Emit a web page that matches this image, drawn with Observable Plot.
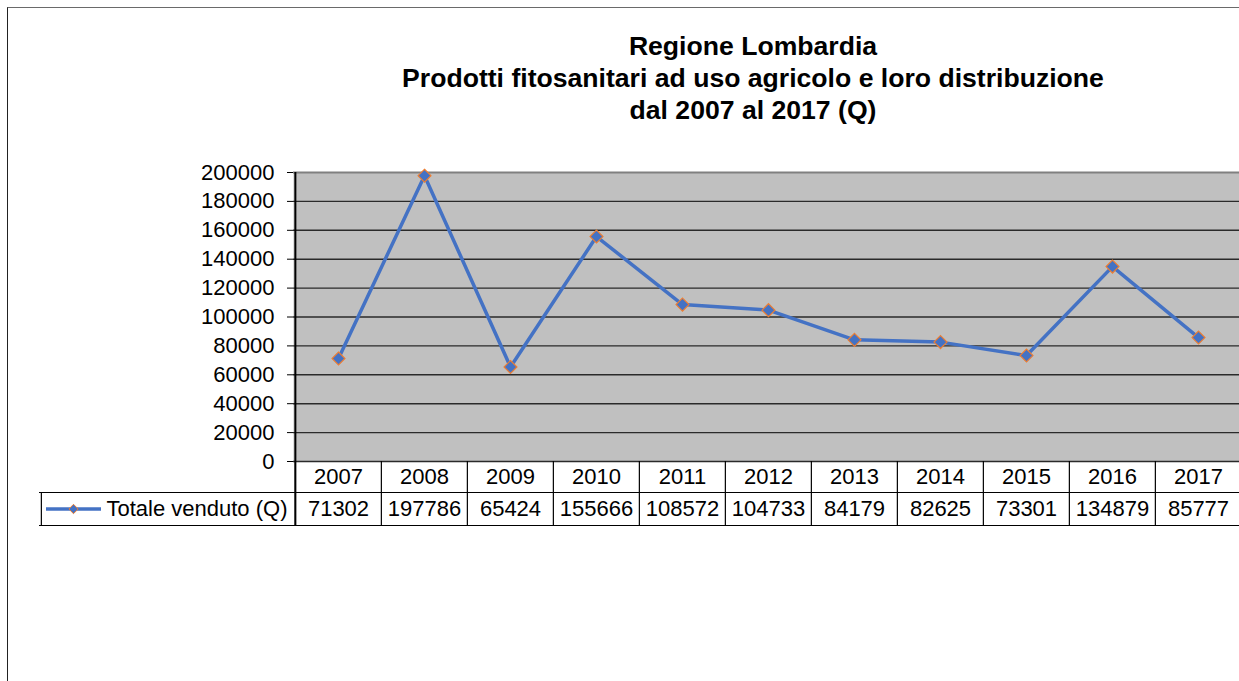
<!DOCTYPE html>
<html><head><meta charset="utf-8">
<script src="https://cdn.jsdelivr.net/npm/d3@7"></script>
<script src="https://cdn.jsdelivr.net/npm/@observablehq/plot@0.6"></script>
<style>
html,body{margin:0;padding:0;background:#fff;overflow:hidden;width:1239px;height:681px;}
#frame{position:absolute;left:7px;top:7px;width:1400px;height:800px;border-left:1px solid #222;border-top:1px solid #6a6a6a;}
#title{position:absolute;left:353px;top:30px;width:800px;text-align:center;font-family:"Liberation Sans",Arial,sans-serif;font-weight:bold;font-size:26.6px;line-height:32px;color:#000;}
#chart{position:absolute;left:0;top:0;width:1245px;}
#chart svg{max-width:none !important;}
</style></head><body>
<div id="frame"></div>
<div id="title"></div>
<div id="chart"></div>
<script>
const titleLines = ["Regione Lombardia", "Prodotti fitosanitari ad uso agricolo e loro distribuzione", "dal 2007 al 2017 (Q)"];
const years = [2007, 2008, 2009, 2010, 2011, 2012, 2013, 2014, 2015, 2016, 2017];
const totals = [71302, 197786, 65424, 155666, 108572, 104733, 84179, 82625, 73301, 134879, 85777];
const yTicks = [0, 20000, 40000, 60000, 80000, 100000, 120000, 140000, 160000, 180000, 200000];
const seriesName = "Totale venduto (Q)";

document.getElementById("title").innerHTML = titleLines.join("<br>");

const W = 1244, H = 681, ML = 293, MR = 2, MT = 172, MB = 220;
const step = (W - ML - MR) / years.length;
const frameH = H - MT - MB;
const row1 = 31, row2 = 33;
const legendLeft = 39;
const data = years.map((y, i) => ({year: y, value: totals[i]}));
const font = '"Liberation Sans", Arial, sans-serif';
const blue = "#4472C4", orange = "#ED7D31";

const chart = Plot.plot({
  width: W, height: H,
  marginLeft: ML, marginRight: MR, marginTop: MT, marginBottom: MB,
  style: {fontFamily: font, fontSize: "22px", color: "#000", background: "transparent", overflow: "visible", maxWidth: "none"},
  x: {type: "point", domain: years, padding: 0.5, align: 0.5, axis: null},
  y: {domain: [0, 200000], ticks: yTicks, tickFormat: d => String(d), tickSize: 6, tickPadding: 13, label: null},
  marks: [
    Plot.frame({fill: "#c0c0c0", stroke: "none"}),
    Plot.ruleY(yTicks.slice(0, -1), {stroke: "#2a2a2a", strokeWidth: 1.4}),
    Plot.ruleY([yTicks[yTicks.length - 1]], {stroke: "#808080", strokeWidth: 2}),
    // data table borders
    Plot.ruleY([0], {dy: row1, insetLeft: -(ML - legendLeft), stroke: "#000", strokeWidth: 1.2}),
    Plot.ruleY([0], {dy: row1 + row2, insetLeft: -(ML - legendLeft), stroke: "#000", strokeWidth: 1.2}),
    Plot.ruleX(years, {x: d => d, dx: -step / 2, insetTop: frameH, insetBottom: -(row1 + row2), stroke: "#000", strokeWidth: 1.2}),
    Plot.ruleX([years[0]], {x: d => d, dx: -step / 2, insetBottom: -(row1 + row2), stroke: "#000", strokeWidth: 2}),
    Plot.ruleX([years[0]], {x: d => d, dx: -step / 2 - (ML - legendLeft), insetTop: frameH + row1, insetBottom: -(row1 + row2), stroke: "#000", strokeWidth: 1.2}),
    // table text
    Plot.text(years, {x: d => d, frameAnchor: "bottom", lineAnchor: "middle", dy: row1 / 2, text: d => String(d), fill: "#000"}),
    Plot.text(data, {x: "year", frameAnchor: "bottom", lineAnchor: "middle", dy: row1 + row2 / 2, text: d => String(d.value), fill: "#000"}),
    // legend key in table
    Plot.ruleY([0], {dy: row1 + row2 / 2, insetLeft: -(ML - 46), insetRight: (W - MR) - 101, stroke: blue, strokeWidth: 3.5}),
    Plot.dot([seriesName], {frameAnchor: "bottom-left", dx: 73 - ML, dy: row1 + row2 / 2, symbol: "diamond2", r: 4.2, fill: blue, stroke: orange, strokeWidth: 1}),
    Plot.text([seriesName], {frameAnchor: "bottom-left", lineAnchor: "middle", dx: 106 - ML, dy: row1 + row2 / 2, textAnchor: "start", text: d => d, fill: "#000"}),
    // series
    Plot.line(data, {x: "year", y: "value", stroke: blue, strokeWidth: 3.5}),
    Plot.dot(data, {x: "year", y: "value", symbol: "diamond2", r: 5.8, fill: blue, stroke: orange, strokeWidth: 1.2})
  ]
});
document.getElementById("chart").appendChild(chart);
</script>
</body></html>
